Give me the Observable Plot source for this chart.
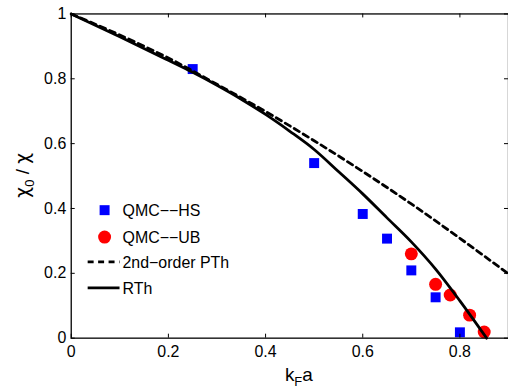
<!DOCTYPE html>
<html><head><meta charset="utf-8">
<script src="https://cdn.jsdelivr.net/npm/d3@7"></script>
<script src="https://cdn.jsdelivr.net/npm/@observablehq/plot@0.6"></script>
<style>
html,body{margin:0;padding:0;background:#fff;overflow:hidden;width:508px;height:391px}
#wrap{position:relative;width:508px;height:391px;overflow:hidden}
#wrap svg{display:block}
</style></head><body><div id="wrap"></div>
<script>
// QMC--HS (blue squares)
const hsX = [0.25, 0.5, 0.6, 0.65, 0.7, 0.75, 0.8];
const hsY = [0.83, 0.54, 0.383, 0.307, 0.209, 0.126, 0.018];
// QMC--UB (red circles)
const ubX = [0.7, 0.75, 0.78, 0.82, 0.85];
const ubY = [0.26, 0.166, 0.133, 0.071, 0.019];
// 2nd-order PTh (dashed)
const pthX = [0, 0.1, 0.2, 0.3, 0.4, 0.5, 0.6, 0.7, 0.8, 0.9];
const pthY = [1, 0.935, 0.864, 0.783, 0.699, 0.609, 0.514, 0.414, 0.308, 0.198];
// RTh (solid)
const rthX = [0, 0.1, 0.2, 0.25, 0.3, 0.35, 0.4, 0.45, 0.5, 0.55, 0.6, 0.65, 0.7, 0.75, 0.8, 0.855];
const rthY = [1, 0.930, 0.857, 0.820, 0.780, 0.737, 0.690, 0.638, 0.582, 0.514, 0.445, 0.371, 0.297, 0.213, 0.115, 0];
const xTicks = [0, 0.2, 0.4, 0.6, 0.8];
const yTicks = [0, 0.2, 0.4, 0.6, 0.8, 1];
const legendLabels = ["QMC\u2212\u2212HS", "QMC\u2212\u2212UB", "2nd\u2212order PTh", "RTh"];

const zip = (xs, ys) => xs.map((x, i) => ({x, y: ys[i]}));
const hs = zip(hsX, hsY), ub = zip(ubX, ubY), pth = zip(pthX, pthY), rth = zip(rthX, rthY);

const W = 510, H = 391, mL = 71, mR = 0, mT = 13.5, mB = 52;
const pW = W - mL - mR, pH = H - mT - mB;
const font = "'Liberation Sans', Arial, Helvetica, sans-serif";

const chart = Plot.plot({
  width: W, height: H,
  marginLeft: mL, marginRight: mR, marginTop: mT, marginBottom: mB,
  style: {fontFamily: font, fontSize: "16px", color: "#000", background: "#fff"},
  x: {domain: [0, 0.9]},
  y: {domain: [0, 1]},
  marks: [
    Plot.dot(hs, {x: "x", y: "y", symbol: "square", r: 5.64, fill: "#0000ff", stroke: "none"}),
    Plot.dot(ub, {x: "x", y: "y", symbol: "circle", r: 6.5, fill: "#ff0000", stroke: "none"}),
    Plot.line(pth, {x: "x", y: "y", curve: "monotone-x", stroke: "#000", strokeWidth: 2.8, strokeDasharray: "6,4.5"}),
    Plot.line(rth, {x: "x", y: "y", curve: "monotone-x", stroke: "#000", strokeWidth: 2.8}),
    Plot.ruleX(xTicks, {x: d => d, insetTop: pH - 4, stroke: "#000", strokeWidth: 1}),
    Plot.ruleX(xTicks, {x: d => d, insetBottom: pH - 4, stroke: "#000", strokeWidth: 1}),
    Plot.ruleY(yTicks, {y: d => d, insetRight: pW - 4, stroke: "#000", strokeWidth: 1}),
    Plot.ruleY(yTicks, {y: d => d, insetLeft: pW - 4, stroke: "#000", strokeWidth: 1}),
    Plot.frame({stroke: "#000", strokeWidth: 1.3}),
    Plot.axisX(xTicks, {tickSize: 0, tickPadding: 8, label: null, tickFormat: d => String(d), fontSize: 16}),
    Plot.axisY(yTicks, {tickSize: 0, tickPadding: 5, label: null, tickFormat: d => String(d), fontSize: 16})
  ]
});
document.getElementById("wrap").appendChild(chart);

const svg = d3.select(chart);
// x-axis label kFa
const xl = svg.append("text").attr("x", 300).attr("y", 383).attr("text-anchor", "middle")
  .attr("font-family", font).attr("font-size", 19).attr("fill", "#000");
xl.append("tspan").text("k");
xl.append("tspan").attr("dy", 5).attr("font-size", 13).text("F");
xl.append("tspan").attr("dy", -5).text("a");
// y-axis label chi0 / chi
const greek = "'DejaVu Sans', 'Noto Sans', sans-serif";
const yl = svg.append("text").attr("transform", "translate(29,176) rotate(-90)").attr("text-anchor", "middle")
  .attr("font-family", font).attr("font-size", 19).attr("fill", "#000");
yl.append("tspan").attr("font-family", greek).text("\u03c7");
yl.append("tspan").attr("dy", 5).attr("font-size", 13).text("0");
yl.append("tspan").attr("dy", -5).text(" / ");
yl.append("tspan").attr("font-family", greek).text("\u03c7");

// legend
const lg = svg.append("g").attr("font-family", font).attr("font-size", 16).attr("text-anchor", "start");
const rows = [211, 238, 263, 289];
lg.append("rect").attr("x", 100).attr("y", rows[0] - 5).attr("width", 10).attr("height", 10).attr("fill", "#0000ff");
lg.append("circle").attr("cx", 105).attr("cy", rows[1]).attr("r", 6.5).attr("fill", "#ff0000");
lg.append("line").attr("x1", 88).attr("x2", 120).attr("y1", rows[2]).attr("y2", rows[2])
  .attr("stroke", "#000").attr("stroke-width", 2.8).attr("stroke-dasharray", "6,4.5");
lg.append("line").attr("x1", 88).attr("x2", 120).attr("y1", rows[3]).attr("y2", rows[3])
  .attr("stroke", "#000").attr("stroke-width", 2.8);
legendLabels.forEach((t, i) => {
  lg.append("text").attr("x", 123).attr("y", rows[i]).attr("dy", "0.36em").attr("fill", "#000").text(t);
});
</script>
</body></html>
